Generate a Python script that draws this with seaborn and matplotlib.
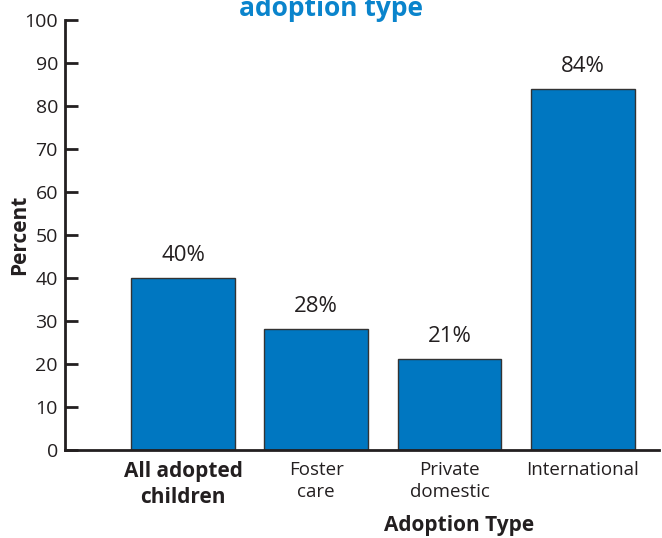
import matplotlib
matplotlib.use('Agg')
import matplotlib.pyplot as plt
import seaborn as sns
import pandas as pd

# data
categories = ['All adopted\nchildren', 'Foster\ncare', 'Private\ndomestic', 'International']
percent = [40, 28, 21, 84]
labels = ['40%', '28%', '21%', '84%']
yticks = [0, 10, 20, 30, 40, 50, 60, 70, 80, 90, 100]

df = pd.DataFrame({'Adoption Type': categories, 'Percent': percent})

sns.set_style('ticks')
plt.rcParams['font.family'] = ['Open Sans', 'DejaVu Sans']

fig = plt.figure(figsize=(6.62, 5.38), dpi=100)
ax = fig.add_axes([0.098, 0.164, 0.897, 0.799])

sns.barplot(data=df, x='Adoption Type', y='Percent', color='#0077c1',
            saturation=1, width=0.78, edgecolor='#333333', linewidth=1, ax=ax)

# value labels above bars
for i, (v, t) in enumerate(zip(percent, labels)):
    ax.text(i, v + 2.8, t, ha='center', va='bottom', fontsize=16, color='#231f20')

ax.set_ylim(0, 100)
ax.set_xlim(-0.887, 3.57)
ax.set_yticks(yticks)
ax.tick_params(axis='y', direction='in', length=9, width=2, labelsize=14,
               colors='#231f20', pad=5)
ax.tick_params(axis='x', length=0, labelsize=13.5, colors='#231f20', pad=8)
for lbl in ax.get_xticklabels():
    lbl.set_linespacing(1.3)
ax.get_xticklabels()[0].set_fontweight('bold')
ax.get_xticklabels()[0].set_fontsize(15)

for s in ['top', 'right']:
    ax.spines[s].set_visible(False)
for s in ['left', 'bottom']:
    ax.spines[s].set_linewidth(2)
    ax.spines[s].set_color('#231f20')

ax.set_ylabel('Percent', fontsize=15, fontweight='bold', color='#231f20')
ax.yaxis.set_label_coords(-0.058, 0.5)
ax.set_xlabel('Adoption Type', fontsize=15, fontweight='bold', color='#231f20')
ax.xaxis.set_label_coords(0.663, -0.151)

# title, cut off at the top like the source
fig.text(0.5, 0.984, 'adoption type', ha='center', va='center',
         fontsize=19, fontweight='bold', color='#0a84cc')

fig.savefig('out.png', dpi=100)
